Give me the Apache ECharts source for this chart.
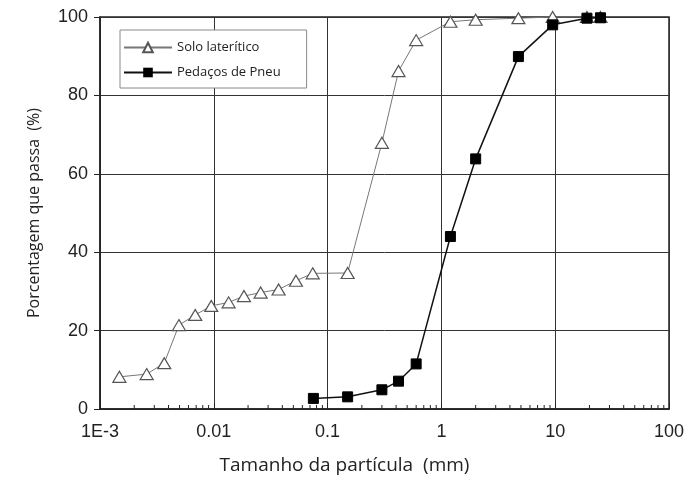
<!DOCTYPE html>
<html>
<head>
  <meta charset="utf-8">
  <style>
    html, body { margin: 0; padding: 0; width: 100%; height: 100%; overflow: hidden; background: #fff; }
  </style>
  <script src="https://cdn.jsdelivr.net/npm/echarts@6/dist/echarts.min.js"></script>
</head>
<body>
  <div id="container" style="width: 689px; height: 491px;"></div>
  <script>
    // Solo lateritico (triangulos)
    var soloX = [0.00148, 0.00257, 0.00367, 0.00494, 0.00687, 0.0095, 0.0135, 0.0184, 0.0258, 0.0371, 0.0527, 0.074, 0.15, 0.30, 0.42, 0.60, 1.2, 2.0, 4.75, 9.5, 19, 25];
    var soloY = [8.2, 8.9, 11.7, 21.4, 24.0, 26.3, 27.2, 28.8, 29.7, 30.5, 32.7, 34.6, 34.7, 67.9, 86.2, 94.1, 98.8, 99.3, 99.7, 100, 100, 100];

    // Pedacos de pneu (quadrados)
    var pneuX = [0.075, 0.15, 0.30, 0.42, 0.60, 1.2, 2.0, 4.75, 9.5, 19, 25];
    var pneuY = [2.7, 3.1, 4.9, 7.1, 11.5, 44.0, 63.8, 89.9, 98.0, 99.7, 99.8];

    var xTickLabels = { '-3': '1E-3', '-2': '0.01', '-1': '0.1', '0': '1', '1': '10', '2': '100' };
    var minorTickValues = [];
    for (var k = -3; k <= 1; k++) {
      for (var m = 2; m <= 9; m++) minorTickValues.push(m * Math.pow(10, k));
    }

    function pairs(xs, ys) {
      return xs.map(function (x, i) { return [x, ys[i]]; });
    }

    var myChart = echarts.init(document.getElementById('container'), null, { renderer: 'canvas' });

    var option = {
      animation: false,
      grid: {
        left: 100, right: 20, top: 17, bottom: 82,
        show: true, borderColor: '#222', borderWidth: 1.5, backgroundColor: 'transparent'
      },
      legend: {
        left: 120, top: 30,
        orient: 'vertical',
        data: ['Solo laterítico', 'Pedaços de Pneu'],
        backgroundColor: '#fff',
        borderColor: '#888', borderWidth: 1,
        padding: [11, 26, 9, 3],
        itemWidth: 48, itemHeight: 12, itemGap: 12,
        textStyle: { fontFamily: 'Open Sans', fontSize: 13, color: '#222' }
      },
      xAxis: {
        type: 'log', logBase: 10, min: 0.001, max: 100,
        name: 'Tamanho da partícula  (mm)',
        nameLocation: 'middle', nameGap: 47,
        nameTextStyle: { fontFamily: 'Open Sans', fontSize: 19, color: '#222', padding: [0, 80, 0, 0] },
        axisLine: { lineStyle: { color: '#222', width: 1.5 } },
        axisTick: { inside: true, length: 6, lineStyle: { color: '#222' } },
        axisLabel: {
          fontFamily: 'Liberation Sans', fontSize: 18, color: '#222', margin: 14,
          formatter: function (v) { return xTickLabels[String(Math.round(Math.log10(v)))]; }
        },
        splitLine: { show: true, lineStyle: { color: '#333', width: 1 } }
      },
      yAxis: {
        type: 'value', min: 0, max: 100, interval: 20,
        name: 'Porcentagem que passa  (%)',
        nameLocation: 'middle', nameGap: 58,
        nameTextStyle: { fontFamily: 'Open Sans', fontSize: 16, color: '#222' },
        axisLine: { show: true, lineStyle: { color: '#222', width: 1.5 } },
        axisTick: { show: true, length: 6, lineStyle: { color: '#222' } },
        axisLabel: { fontFamily: 'Liberation Sans', fontSize: 18, color: '#222', margin: 12 },
        splitLine: { show: true, lineStyle: { color: '#333', width: 1 } }
      },
      series: [
        {
          name: 'Solo laterítico',
          type: 'line',
          data: pairs(soloX, soloY),
          symbol: 'triangle', symbolSize: [13, 11],
          clip: false,
          lineStyle: { color: '#777', width: 1 },
          itemStyle: { color: '#fff', borderColor: '#555', borderWidth: 1.2 },
          z: 3
        },
        {
          name: 'Pedaços de Pneu',
          type: 'line',
          data: pairs(pneuX, pneuY),
          symbol: 'rect', symbolSize: 10,
          clip: false,
          lineStyle: { color: '#111', width: 1.5 },
          itemStyle: { color: '#000', borderColor: '#000' },
          z: 4
        },
        {
          type: 'custom',
          silent: true,
          data: minorTickValues.map(function (v) { return [v, 0]; }),
          renderItem: function (params, api) {
            var p = api.coord([api.value(0), 0]);
            return {
              type: 'line',
              shape: { x1: p[0], y1: p[1], x2: p[0], y2: p[1] - 4 },
              style: { stroke: '#222', lineWidth: 1 }
            };
          },
          z: 2
        }
      ]
    };

    myChart.setOption(option);
    window.addEventListener('resize', myChart.resize);
  </script>
</body>
</html>
